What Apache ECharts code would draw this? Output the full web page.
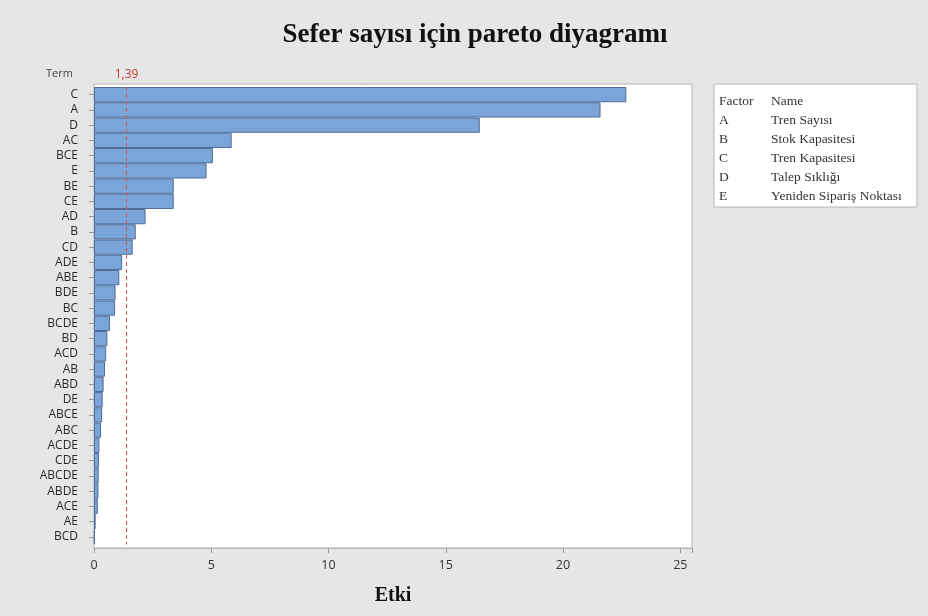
<!DOCTYPE html>
<html>
<head>
<meta charset="utf-8">
<script src="https://cdn.jsdelivr.net/npm/echarts@6/dist/echarts.min.js"></script>
<style>
  html, body { margin: 0; padding: 0; background: #e6e6e6; }
  #chart { width: 928px; height: 616px; }
</style>
</head>
<body>
<div id="chart"></div>
<script>
// Terms ordered from largest to smallest standardized effect
const categories = ['C', 'A', 'D', 'AC', 'BCE', 'E', 'BE', 'CE', 'AD', 'B', 'CD', 'ADE', 'ABE', 'BDE', 'BC',
  'BCDE', 'BD', 'ACD', 'AB', 'ABD', 'DE', 'ABCE', 'ABC', 'ACDE', 'CDE', 'ABCDE', 'ABDE', 'ACE', 'AE', 'BCD'];
const effects = [22.7, 21.6, 16.45, 5.87, 5.07, 4.8, 3.4, 3.4, 2.2, 1.78, 1.65, 1.2, 1.08, 0.92, 0.9,
  0.68, 0.57, 0.52, 0.47, 0.41, 0.37, 0.35, 0.3, 0.23, 0.21, 0.2, 0.19, 0.16, 0.07, 0.03];

// Critical value of the effect
const refValue = 1.39;
const refLabel = '1,39';

// X axis scale
const xMin = 0;
const xMax = 25.5;
const xStep = 5;

// Factor key
const factorCodes = ['A', 'B', 'C', 'D', 'E'];
const factorNames = ['Tren Sayısı', 'Stok Kapasitesi', 'Tren Kapasitesi', 'Talep Sıklığı', 'Yeniden Sipariş Noktası'];

const chart = echarts.init(document.getElementById('chart'));

const sans = 'Open Sans';
const serif = 'Liberation Serif';
const keyFont = '13.5px "Liberation Serif"';

// Factor key table
const keyRows = [['Factor', 'Name']].concat(factorCodes.map((c, i) => [c, factorNames[i]]));
const keyChildren = [{
  type: 'rect',
  shape: { x: 0, y: 0, width: 203, height: 123 },
  style: { fill: '#ffffff', stroke: '#b4b4b4', lineWidth: 1 }
}];
keyRows.forEach((row, i) => {
  keyChildren.push({
    type: 'text', x: 5, y: 17 + i * 19,
    style: { text: row[0], font: keyFont, fill: '#333', textVerticalAlign: 'middle' }
  });
  keyChildren.push({
    type: 'text', x: 57, y: 17 + i * 19,
    style: { text: row[1], font: keyFont, fill: '#333', textVerticalAlign: 'middle' }
  });
});

chart.setOption({
  backgroundColor: '#e6e6e6',
  animation: false,
  title: [{
    text: 'Sefer sayısı için pareto diyagramı',
    left: 470, top: 17, textAlign: 'center',
    textStyle: { fontFamily: serif, fontWeight: 'bold', fontSize: 27, color: '#111' }
  }, {
    text: 'Term',
    left: 41, top: 63,
    textStyle: { fontFamily: sans, fontWeight: 'normal', fontSize: 11, color: '#444' }
  }],
  grid: [
    // plot frame
    { left: 94, right: 236, top: 84, bottom: 68, show: true, backgroundColor: '#ffffff',
      borderColor: '#b4b4b4', borderWidth: 1, z: 0 },
    // bars
    { left: 94, right: 236, top: 87, bottom: 71.5, show: false }
  ],
  xAxis: {
    gridIndex: 1,
    type: 'value',
    min: xMin, max: xMax, interval: xStep,
    offset: 3.5,
    splitLine: { show: false },
    axisLine: { show: true, lineStyle: { color: '#b4b4b4' } },
    axisTick: { show: true, length: 5, lineStyle: { color: '#999' } },
    axisLabel: {
      color: '#333', fontFamily: sans, fontSize: 12.5, margin: 11,
      formatter: v => (v % xStep === 0 ? String(v) : '')
    },
    name: 'Etki',
    nameLocation: 'middle',
    nameGap: 38,
    nameTextStyle: { fontFamily: serif, fontWeight: 'bold', fontSize: 20, color: '#111' }
  },
  yAxis: {
    gridIndex: 1,
    type: 'category',
    data: categories,
    inverse: true,
    axisLine: { show: false },
    axisTick: { show: true, alignWithLabel: true, interval: 0, length: 5, lineStyle: { color: '#999' } },
    axisLabel: { color: '#2a2a2a', fontFamily: sans, fontSize: 12, margin: 16, interval: 0 }
  },
  series: [{
    type: 'bar',
    xAxisIndex: 0, yAxisIndex: 0,
    data: effects,
    barWidth: '100%',
    itemStyle: { color: '#7ba4d8', borderColor: '#4f6e99', borderWidth: 1 },
    markLine: {
      silent: true,
      symbol: 'none',
      lineStyle: { color: '#d9534f', type: [4, 3], width: 1 },
      label: { show: true, formatter: refLabel, position: 'start', color: '#c0392b',
        fontFamily: sans, fontSize: 12, distance: 6 },
      data: [{ xAxis: refValue }]
    }
  }],
  graphic: [{ type: 'group', x: 714, y: 84, children: keyChildren }]
});
</script>
</body>
</html>
